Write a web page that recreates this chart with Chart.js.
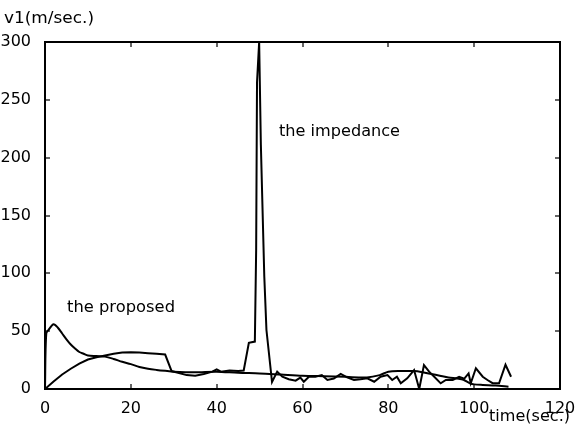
<!DOCTYPE html>
<html><head><meta charset="utf-8">
<script src="https://cdn.jsdelivr.net/npm/chart.js@4/dist/chart.umd.min.js"></script>
<style>html,body{margin:0;padding:0;background:#fff}</style>
</head><body>
<canvas id="c" width="578" height="427"></canvas>
<script>
const xTicks = [0, 20, 40, 60, 80, 100, 120];
const yTicks = [0, 50, 100, 150, 200, 250, 300];

const propTime  = [0, 0.3, 1, 2, 3, 4, 5, 6, 7, 8, 9, 10, 12, 14, 16, 18, 20, 22, 24, 26, 28, 30, 35, 40, 45, 50, 55, 60, 65, 70, 75, 78, 80, 83, 86, 88, 90, 92, 94, 96, 97.5, 99, 100, 102, 105, 108];
const propValue = [0, 48, 52, 56, 53, 48, 43, 38.5, 35, 32, 30.5, 29, 28.5, 28, 26, 23.5, 21.5, 19, 17.5, 16.5, 15.7, 15, 14.5, 15, 14, 13.5, 12.5, 11.5, 11, 10.5, 10, 12, 15, 15.5, 15.5, 14.5, 13, 11.5, 10, 9, 8, 5, 4, 3.5, 3, 2];

const impTime  = [0, 2, 4, 6, 8, 10, 12, 14, 16, 18, 20, 22, 24, 26, 28, 29.5, 31, 33, 35, 37, 39, 40, 41, 43, 45, 46.3, 47.5, 48.9, 49.2, 49.4, 49.9, 50.3, 51.1, 51.6, 52.9, 54.1, 55.3, 56.8, 58.4, 59.5, 60.3, 61.5, 63, 64.5, 65.8, 67.3, 68.9, 70.4, 72, 73.5, 75.1, 76.7, 78.2, 79.8, 80.9, 82, 82.9, 84.4, 86, 87.2, 88.3, 89.5, 90.7, 92.2, 93.4, 95, 96.5, 97.7, 98.7, 99.2, 100.4, 102, 103.1, 104.3, 105.8, 107.3, 108.6];
const impValue = [0, 6.5, 12.5, 17.5, 22, 25.5, 27.5, 29, 30.5, 31.5, 31.7, 31.5, 31, 30.5, 29.8, 15.5, 14, 12, 11.5, 13, 15, 17, 15, 16, 15.5, 16, 40, 41, 120, 265, 300, 211, 97, 51, 6, 15, 10.6, 8.4, 7.2, 9.8, 6.3, 10.6, 10.6, 12, 7.8, 9, 13, 10, 7.8, 8.4, 9.2, 6.3, 10.6, 12, 7.8, 10.6, 4.9, 9.2, 16.4, 0, 20.7, 15, 10.6, 4.9, 7.8, 7.8, 10.6, 9, 13.5, 5, 17.9, 10.6, 7.8, 5, 5, 21, 10.6];

const FONT = "'DejaVu Sans', sans-serif";

function stretchText(ctx, text, x, y, w) {
  const m = ctx.measureText(text).width;
  ctx.save();
  ctx.translate(x, y);
  ctx.scale(w / m, 1);
  ctx.fillText(text, 0, 0);
  ctx.restore();
}

const decor = {
  id: 'decor',
  afterDraw(chart) {
    const ctx = chart.ctx;
    const a = chart.chartArea;
    const x = chart.scales.x, y = chart.scales.y;
    const l = Math.round(a.left), r = Math.round(a.right), t = Math.round(a.top), b = Math.round(a.bottom);
    ctx.save();
    ctx.fillStyle = '#000';
    ctx.fillRect(l - 1, t - 1, r - l + 2, 2);
    ctx.fillRect(l - 1, b - 1, r - l + 2, 2);
    ctx.fillRect(l - 1, t - 1, 2, b - t + 2);
    ctx.fillRect(r - 1, t - 1, 2, b - t + 2);
    const L = 5;
    xTicks.forEach(v => {
      const px = Math.round(x.getPixelForValue(v));
      ctx.fillRect(px - 0.6, b - L, 1.2, L);
      ctx.fillRect(px - 0.6, t, 1.2, L);
    });
    yTicks.forEach(v => {
      const py = Math.round(y.getPixelForValue(v));
      ctx.fillRect(l, py - 0.6, L, 1.2);
      ctx.fillRect(r - L, py - 0.6, L, 1.2);
    });
    ctx.textBaseline = 'alphabetic';
    ctx.textAlign = 'left';
    ctx.font = '15px ' + FONT;
    stretchText(ctx, 'v1(m/sec.)', 4, 23, 90);
    stretchText(ctx, 'time(sec.)', 489, 421, 81);
    stretchText(ctx, 'the impedance', 279, 136, 121);
    stretchText(ctx, 'the proposed', 67, 312, 108);
    ctx.restore();
  }
};

new Chart(document.getElementById('c'), {
  type: 'line',
  data: {
    datasets: [
      { data: impTime.map((t, i) => ({ x: t, y: impValue[i] })), borderColor: '#000', borderWidth: 2, pointRadius: 0, tension: 0, fill: false },
      { data: propTime.map((t, i) => ({ x: t, y: propValue[i] })), borderColor: '#000', borderWidth: 2, pointRadius: 0, tension: 0.3, fill: false }
    ]
  },
  options: {
    responsive: false,
    animation: false,
    layout: { padding: { top: 42, right: 18, left: 0, bottom: 0 } },
    plugins: { legend: { display: false }, tooltip: { enabled: false } },
    scales: {
      x: {
        type: 'linear', min: 0, max: 120,
        afterBuildTicks: s => { s.ticks = xTicks.map(v => ({ value: v })); },
        grid: { display: false }, border: { display: false },
        ticks: { color: '#000', font: { family: FONT, size: 16 }, padding: 2, maxRotation: 0, autoSkip: false },
        afterFit: s => { s.height = 38; }
      },
      y: {
        type: 'linear', min: 0, max: 300,
        afterBuildTicks: s => { s.ticks = yTicks.map(v => ({ value: v })); },
        grid: { display: false }, border: { display: false },
        ticks: { color: '#000', font: { family: FONT, size: 16 }, padding: 6, autoSkip: false },
        afterFit: s => { s.width = 45; }
      }
    }
  },
  plugins: [decor]
});
</script>
</body></html>
